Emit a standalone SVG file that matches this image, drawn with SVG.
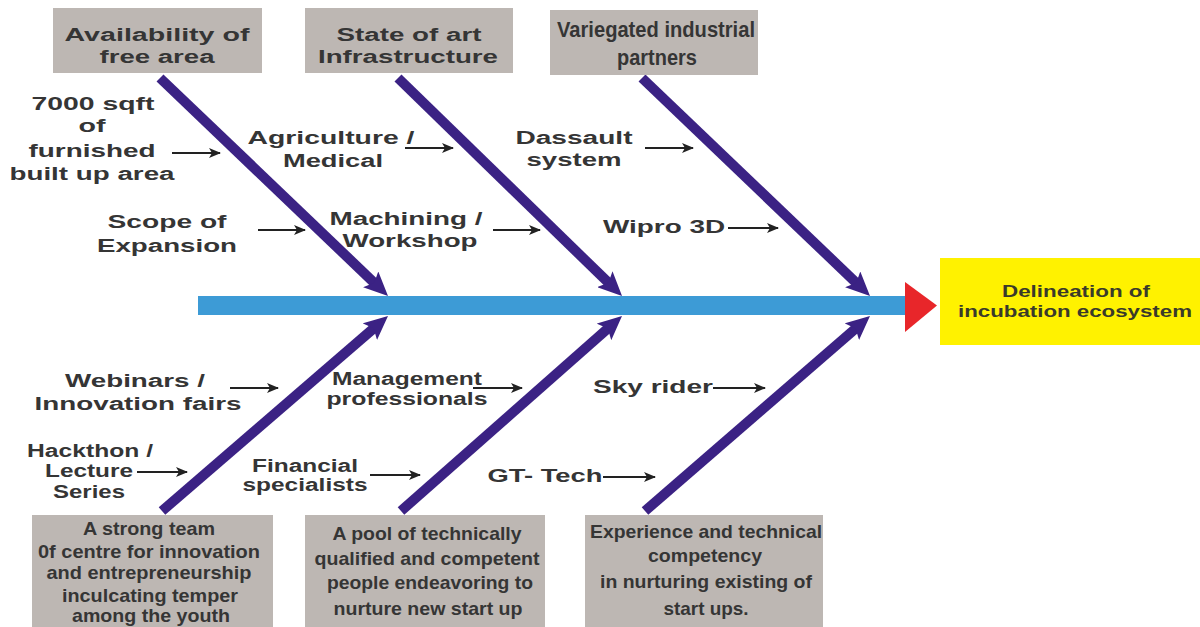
<svg xmlns="http://www.w3.org/2000/svg" width="1200" height="627" viewBox="0 0 1200 627">
<style>
text{font-family:"Liberation Sans",Arial,sans-serif;fill:#353535;text-anchor:middle}
.b{font-weight:bold;font-size:18px}
.bx{font-weight:bold;font-size:19px}
.n{font-size:22px;font-weight:bold}
.y{font-size:17px;font-weight:bold;fill:#3a3a2a}
.gbox{fill:#bdb7b3}
.bone{stroke:#3b2284;stroke-width:10;fill:none}
.sm{stroke:#222;stroke-width:2;fill:none}
</style>
<defs>
<marker id="bh" markerUnits="userSpaceOnUse" viewBox="0 0 24 22" markerWidth="24" markerHeight="22" refX="10" refY="11" orient="auto">
<path d="M0,0 L24,11 L0,22 L5,11 Z" fill="#3b2284"/>
</marker>
<marker id="sh" markerUnits="userSpaceOnUse" viewBox="0 0 12 10" markerWidth="12" markerHeight="10" refX="11" refY="5" orient="auto">
<path d="M0,0 L12,5 L0,10 L3,5 Z" fill="#222"/>
</marker>
</defs>
<rect width="1200" height="627" fill="#fff"/>
<g id="connectors">
<rect x="198" y="296" width="708" height="19" fill="#3d9bd6"/>
<polygon points="905,282 937,305.5 905,332" fill="#e8262a"/>
<line class="bone" x1="160" y1="78" x2="377.9" y2="286.3" marker-end="url(#bh)"/>
<line class="bone" x1="398" y1="78" x2="612" y2="286.2" marker-end="url(#bh)"/>
<line class="bone" x1="642" y1="78" x2="859.9" y2="286.3" marker-end="url(#bh)"/>
<line class="bone" x1="162" y1="511" x2="377.4" y2="325.1" marker-end="url(#bh)"/>
<line class="bone" x1="401" y1="511" x2="611.5" y2="325.3" marker-end="url(#bh)"/>
<line class="bone" x1="645" y1="511" x2="859.4" y2="325.2" marker-end="url(#bh)"/>
<line class="sm" x1="172" y1="153" x2="220" y2="153" marker-end="url(#sh)"/>
<line class="sm" x1="258" y1="230" x2="305" y2="230" marker-end="url(#sh)"/>
<line class="sm" x1="405" y1="148" x2="453" y2="148" marker-end="url(#sh)"/>
<line class="sm" x1="493" y1="230" x2="540" y2="230" marker-end="url(#sh)"/>
<line class="sm" x1="645" y1="148" x2="693" y2="148" marker-end="url(#sh)"/>
<line class="sm" x1="728" y1="228" x2="778" y2="228" marker-end="url(#sh)"/>
<line class="sm" x1="230" y1="388" x2="278" y2="388" marker-end="url(#sh)"/>
<line class="sm" x1="137" y1="472" x2="187" y2="472" marker-end="url(#sh)"/>
<line class="sm" x1="370" y1="475" x2="420" y2="475" marker-end="url(#sh)"/>
<line class="sm" x1="473" y1="388" x2="522" y2="388" marker-end="url(#sh)"/>
<line class="sm" x1="713" y1="388" x2="765" y2="388" marker-end="url(#sh)"/>
<line class="sm" x1="603" y1="477" x2="655" y2="477" marker-end="url(#sh)"/>
</g>
<g id="top-free-area">
<rect class="gbox" x="53" y="8" width="209" height="65"/>
<text class="b" x="157" y="41" textLength="185" lengthAdjust="spacingAndGlyphs">Availability  of</text>
<text class="b" x="157" y="63" textLength="115" lengthAdjust="spacingAndGlyphs">free area</text>
</g>
<g id="top-infrastructure">
<rect class="gbox" x="305" y="8" width="208" height="65"/>
<text class="b" x="409" y="41" textLength="145" lengthAdjust="spacingAndGlyphs">State of art</text>
<text class="b" x="408" y="63" textLength="180" lengthAdjust="spacingAndGlyphs">Infrastructure</text>
</g>
<g id="top-partners">
<rect class="gbox" x="550" y="10" width="208" height="65"/>
<text class="n" x="656" y="37" textLength="198" lengthAdjust="spacingAndGlyphs">Variegated industrial</text>
<text class="n" x="657" y="65" textLength="80" lengthAdjust="spacingAndGlyphs">partners</text>
</g>
<g id="effect">
<rect x="940" y="258" width="260" height="87" fill="#fff200"/>
<text class="y" x="1076" y="297" textLength="148" lengthAdjust="spacingAndGlyphs">Delineation of</text>
<text class="y" x="1075" y="317" textLength="234" lengthAdjust="spacingAndGlyphs">incubation ecosystem</text>
</g>
<g id="label-sqft">
<text class="b" x="93" y="110" textLength="123" lengthAdjust="spacingAndGlyphs">7000 sqft</text>
<text class="b" x="92" y="132" textLength="27" lengthAdjust="spacingAndGlyphs">of</text>
<text class="b" x="92" y="157" textLength="127" lengthAdjust="spacingAndGlyphs">furnished</text>
<text class="b" x="92" y="180" textLength="165" lengthAdjust="spacingAndGlyphs">built up area</text>
</g>
<g id="label-scope">
<text class="b" x="167" y="228" textLength="119" lengthAdjust="spacingAndGlyphs">Scope of</text>
<text class="b" x="167" y="252" textLength="140" lengthAdjust="spacingAndGlyphs">Expansion</text>
</g>
<g id="label-agri">
<text class="b" x="331" y="144" textLength="167" lengthAdjust="spacingAndGlyphs">Agriculture /</text>
<text class="b" x="333" y="167" textLength="100" lengthAdjust="spacingAndGlyphs">Medical</text>
</g>
<g id="label-machining">
<text class="b" x="406" y="225" textLength="153" lengthAdjust="spacingAndGlyphs">Machining /</text>
<text class="b" x="410" y="247" textLength="135" lengthAdjust="spacingAndGlyphs">Workshop</text>
</g>
<g id="label-dassault">
<text class="b" x="574" y="144" textLength="117" lengthAdjust="spacingAndGlyphs">Dassault</text>
<text class="b" x="574" y="166" textLength="95" lengthAdjust="spacingAndGlyphs">system</text>
</g>
<g id="label-wipro">
<text class="b" x="664" y="233" textLength="122" lengthAdjust="spacingAndGlyphs">Wipro 3D</text>
</g>
<g id="label-webinars">
<text class="b" x="135" y="387" textLength="140" lengthAdjust="spacingAndGlyphs">Webinars /</text>
<text class="b" x="138" y="410" textLength="207" lengthAdjust="spacingAndGlyphs">Innovation fairs</text>
</g>
<g id="label-hackthon">
<text class="b" x="90" y="457" textLength="126" lengthAdjust="spacingAndGlyphs">Hackthon /</text>
<text class="b" x="89" y="477" textLength="88" lengthAdjust="spacingAndGlyphs">Lecture</text>
<text class="b" x="89" y="498" textLength="72" lengthAdjust="spacingAndGlyphs">Series</text>
</g>
<g id="label-management">
<text class="b" x="407" y="385" textLength="150" lengthAdjust="spacingAndGlyphs">Management</text>
<text class="b" x="407" y="405" textLength="161" lengthAdjust="spacingAndGlyphs">professionals</text>
</g>
<g id="label-financial">
<text class="b" x="305" y="472" textLength="106" lengthAdjust="spacingAndGlyphs">Financial</text>
<text class="b" x="305" y="491" textLength="125" lengthAdjust="spacingAndGlyphs">specialists</text>
</g>
<g id="label-skyrider">
<text class="b" x="653" y="393" textLength="120" lengthAdjust="spacingAndGlyphs">Sky rider</text>
</g>
<g id="label-gttech">
<text class="b" x="545" y="482" textLength="115" lengthAdjust="spacingAndGlyphs">GT- Tech</text>
</g>
<g id="bottom-team">
<rect class="gbox" x="32" y="515" width="241" height="112"/>
<text class="bx" x="149" y="535" textLength="132" lengthAdjust="spacingAndGlyphs">A strong team</text>
<text class="bx" x="149" y="558" textLength="222" lengthAdjust="spacingAndGlyphs">0f centre for innovation</text>
<text class="bx" x="149" y="579" textLength="205" lengthAdjust="spacingAndGlyphs">and entrepreneurship</text>
<text class="bx" x="150" y="602" textLength="176" lengthAdjust="spacingAndGlyphs">inculcating temper</text>
<text class="bx" x="151" y="622" textLength="158" lengthAdjust="spacingAndGlyphs">among the youth</text>
</g>
<g id="bottom-pool">
<rect class="gbox" x="305" y="515" width="240" height="112"/>
<text class="bx" x="427" y="540" textLength="189" lengthAdjust="spacingAndGlyphs">A pool of technically</text>
<text class="bx" x="427" y="565" textLength="225" lengthAdjust="spacingAndGlyphs">qualified and competent</text>
<text class="bx" x="430" y="589" textLength="206" lengthAdjust="spacingAndGlyphs">people endeavoring to</text>
<text class="bx" x="428" y="615" textLength="189" lengthAdjust="spacingAndGlyphs">nurture new start up</text>
</g>
<g id="bottom-experience">
<rect class="gbox" x="585" y="515" width="238" height="112"/>
<text class="bx" x="706" y="538" textLength="232" lengthAdjust="spacingAndGlyphs">Experience and technical</text>
<text class="bx" x="705" y="562" textLength="114" lengthAdjust="spacingAndGlyphs">competency</text>
<text class="bx" x="706" y="588" textLength="212" lengthAdjust="spacingAndGlyphs">in nurturing existing of</text>
<text class="bx" x="706" y="615" textLength="85" lengthAdjust="spacingAndGlyphs">start ups.</text>
</g>
</svg>
